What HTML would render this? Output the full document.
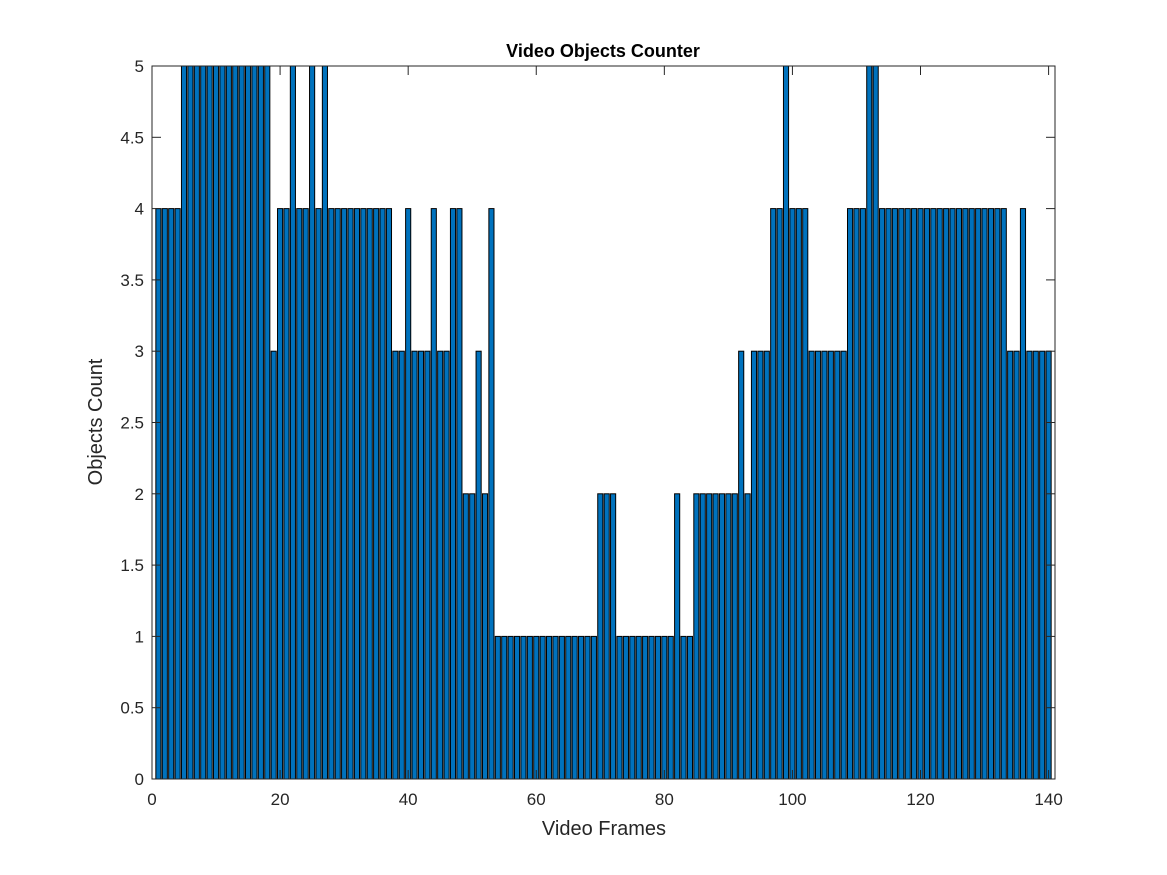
<!DOCTYPE html>
<html><head><meta charset="utf-8"><style>
html,body{margin:0;padding:0;background:#fff;width:1167px;height:875px;overflow:hidden}
svg text{font-family:"Liberation Sans",Arial,sans-serif;fill:#262626}
</style></head><body>
<svg id="chart" width="1167" height="875" xmlns="http://www.w3.org/2000/svg">
<rect x="0" y="0" width="1167" height="875" fill="#fff"/>
<g id="bars"></g>
<g id="axes"></g>
<text x="603" y="57" text-anchor="middle" font-size="18" font-weight="bold" style="fill:#000">Video Objects Counter</text>
<text x="604" y="835" text-anchor="middle" font-size="20">Video Frames</text>
<text x="0" y="0" transform="translate(102,422) rotate(-90)" text-anchor="middle" font-size="20">Objects Count</text>
</svg>
<script>
const values = [4,4,4,4,5,5,5,5,5,5,5,5,5,5,5,5,5,5,3,4,4,5,4,4,5,4,5,4,4,4,
4,4,4,4,4,4,4,3,3,4,3,3,3,4,3,3,4,4,2,2,3,2,4,1,1,1,1,1,1,1,
1,1,1,1,1,1,1,1,1,2,2,2,1,1,1,1,1,1,1,1,1,2,1,1,2,2,2,2,2,2,
2,3,2,3,3,3,4,4,5,4,4,4,3,3,3,3,3,3,4,4,4,5,5,4,4,4,4,4,4,4,
4,4,4,4,4,4,4,4,4,4,4,4,4,3,3,4,3,3,3,3];
const xTicks = [0,20,40,60,80,100,120,140];
const yTicks = [0,0.5,1,1.5,2,2.5,3,3.5,4,4.5,5];
const yTickLabels = ["0","0.5","1","1.5","2","2.5","3","3.5","4","4.5","5"];
const L=152,R=1055,T=66,B=779,XMAX=141,YMAX=5;
const xs=v=>L+(R-L)*v/XMAX;
const ys=v=>B-(B-T)*v/YMAX;
const NS="http://www.w3.org/2000/svg";
const bars=document.getElementById('bars'), axes=document.getElementById('axes');
const bw=(R-L)/XMAX*0.8;
values.forEach((v,i)=>{
 const r=document.createElementNS(NS,'rect');
 r.setAttribute('x',xs(i+1)-bw/2);r.setAttribute('y',ys(v));
 r.setAttribute('width',bw);r.setAttribute('height',ys(0)-ys(v));
 r.setAttribute('fill','#0072BD');r.setAttribute('stroke','#000');r.setAttribute('stroke-width','1');
 
 
 bars.appendChild(r);
});
function line(x1,y1,x2,y2,name){const l=document.createElementNS(NS,'line');
 l.setAttribute('x1',x1);l.setAttribute('y1',y1);l.setAttribute('x2',x2);l.setAttribute('y2',y2);
 l.setAttribute('stroke','#262626');l.setAttribute('stroke-width','1');
 
 
 axes.appendChild(l);}
function text(x,y,s,anchor,name){const t=document.createElementNS(NS,'text');
 t.setAttribute('x',x);t.setAttribute('y',y);t.setAttribute('text-anchor',anchor);t.setAttribute('font-size','17');t.textContent=s;
 
 
 axes.appendChild(t);}
const box=document.createElementNS(NS,'rect');
box.setAttribute('x',L);box.setAttribute('y',T);box.setAttribute('width',R-L);box.setAttribute('height',B-T);
box.setAttribute('fill','none');box.setAttribute('stroke','#262626');box.setAttribute('stroke-width','1');


axes.appendChild(box);
xTicks.forEach(v=>{const x=xs(v);line(x,B,x,B-9,'x-tick');line(x,T,x,T+9,'x-tick-top');text(x,B+26,String(v),'middle','x-tick-label');});
yTicks.forEach((v,i)=>{const y=ys(v);line(L,y,L+9,y,'y-tick');line(R,y,R-9,y,'y-tick-right');text(L-8,y+6,yTickLabels[i],'end','y-tick-label');});
</script>
</body></html>
